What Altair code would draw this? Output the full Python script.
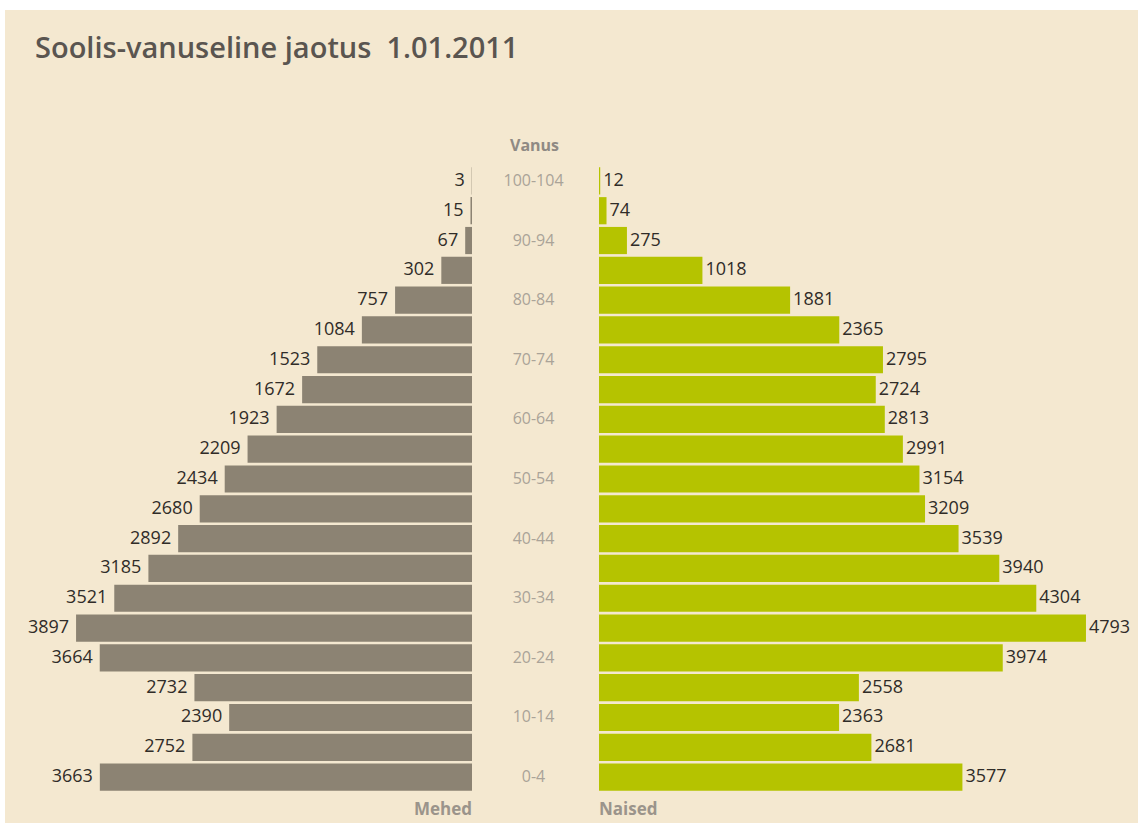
import altair as alt
import pandas as pd

# ---- data ----
ages = ["100-104", "95-99", "90-94", "85-89", "80-84", "75-79", "70-74", "65-69",
        "60-64", "55-59", "50-54", "45-49", "40-44", "35-39", "30-34", "25-29",
        "20-24", "15-19", "10-14", "5-9", "0-4"]
men = [3, 15, 67, 302, 757, 1084, 1523, 1672, 1923, 2209, 2434, 2680, 2892,
       3185, 3521, 3897, 3664, 2732, 2390, 2752, 3663]
women = [12, 74, 275, 1018, 1881, 2365, 2795, 2724, 2813, 2991, 3154, 3209,
         3539, 3940, 4304, 4793, 3974, 2558, 2363, 2681, 3577]
age_ticks = ["100-104", "90-94", "80-84", "70-74", "60-64", "50-54", "40-44",
             "30-34", "20-24", "10-14", "0-4"]

title_text = "Soolis-vanuseline jaotus\u00a0 1.01.2011"
header_text = "Vanus"
men_label = "Mehed"
women_label = "Naised"

df = pd.DataFrame({"age": ages, "men": men, "women": women})
df["tick"] = [a if a in age_ticks else "" for a in ages]

# ---- styles ----
BG = "#f4e8d0"
GRAY = "#8c8373"
GREEN = "#b5c300"
FONT = "Open Sans"
H = 626
W_LEFT, W_MID, W_RIGHT = 472, 127, 539
PX_PER_UNIT = 0.1016
TOP = 156  # distance from beige top edge to plot top

yenc = alt.Y("age:N", sort=ages, axis=None,
             scale=alt.Scale(paddingInner=0.088, paddingOuter=0.044))

base = alt.Chart(df)

# beige background panel (reference has a thin white strip at top/left)
bg = alt.Chart(pd.DataFrame({"k": [0]})).mark_rect(color=BG).encode(
    x=alt.value(5), x2=alt.value(1138), y=alt.value(-TOP), y2=alt.value(H + 31)
)

title = alt.Chart(pd.DataFrame({"t": [title_text]})).mark_text(
    align="left", baseline="alphabetic", font=FONT, fontSize=29, fontWeight=600, color="#5a5550"
).encode(text="t:N", x=alt.value(35), y=alt.value(-108))

xl = alt.X("men:Q", axis=None,
           scale=alt.Scale(domain=[0, W_LEFT / PX_PER_UNIT], reverse=True, nice=False, zero=True))
left_bars = base.mark_bar(color=GRAY).encode(x=xl, y=yenc)
left_text = base.mark_text(align="right", baseline="middle", dx=-7, font=FONT,
                           fontSize=18, color="#302c28").encode(x=xl, y=yenc, text="men:Q")
mehed = alt.Chart(pd.DataFrame({"t": [men_label]})).mark_text(
    align="right", baseline="alphabetic", font=FONT, fontSize=17, fontWeight="bold", color="#9b948b"
).encode(text="t:N", x=alt.value(W_LEFT), y=alt.value(H + 23))

left = alt.layer(bg, title, left_bars, left_text, mehed).properties(width=W_LEFT, height=H)

mid_text = base.mark_text(align="center", baseline="middle", font=FONT, fontSize=16,
                          color="#aaa398").encode(x=alt.value(W_MID / 2 - 2), y=yenc, text="tick:N")
vanus = alt.Chart(pd.DataFrame({"t": [header_text]})).mark_text(
    align="center", baseline="alphabetic", font=FONT, fontSize=16, fontWeight="bold", color="#8f8a84"
).encode(text="t:N", x=alt.value(W_MID / 2 - 1), y=alt.value(-15))
mid = alt.layer(mid_text, vanus).properties(width=W_MID, height=H)

xr = alt.X("women:Q", axis=None,
           scale=alt.Scale(domain=[0, W_RIGHT / PX_PER_UNIT], nice=False, zero=True))
right_bars = base.mark_bar(color=GREEN).encode(x=xr, y=yenc)
right_text = base.mark_text(align="left", baseline="middle", dx=3, font=FONT,
                            fontSize=18, color="#302c28").encode(x=xr, y=yenc, text="women:Q")
naised = alt.Chart(pd.DataFrame({"t": [women_label]})).mark_text(
    align="left", baseline="alphabetic", font=FONT, fontSize=17, fontWeight="bold", color="#9b948b"
).encode(text="t:N", x=alt.value(0), y=alt.value(H + 23))
right = alt.layer(right_bars, right_text, naised).properties(width=W_RIGHT, height=H)

chart = alt.hconcat(left, mid, right, spacing=0, bounds="flush").properties(
    padding={"left": 0, "top": 10, "right": 0, "bottom": 0},
    background="white",
).configure_view(strokeWidth=0)

chart.save("out.html", embed_options={"renderer": "svg", "actions": False})
